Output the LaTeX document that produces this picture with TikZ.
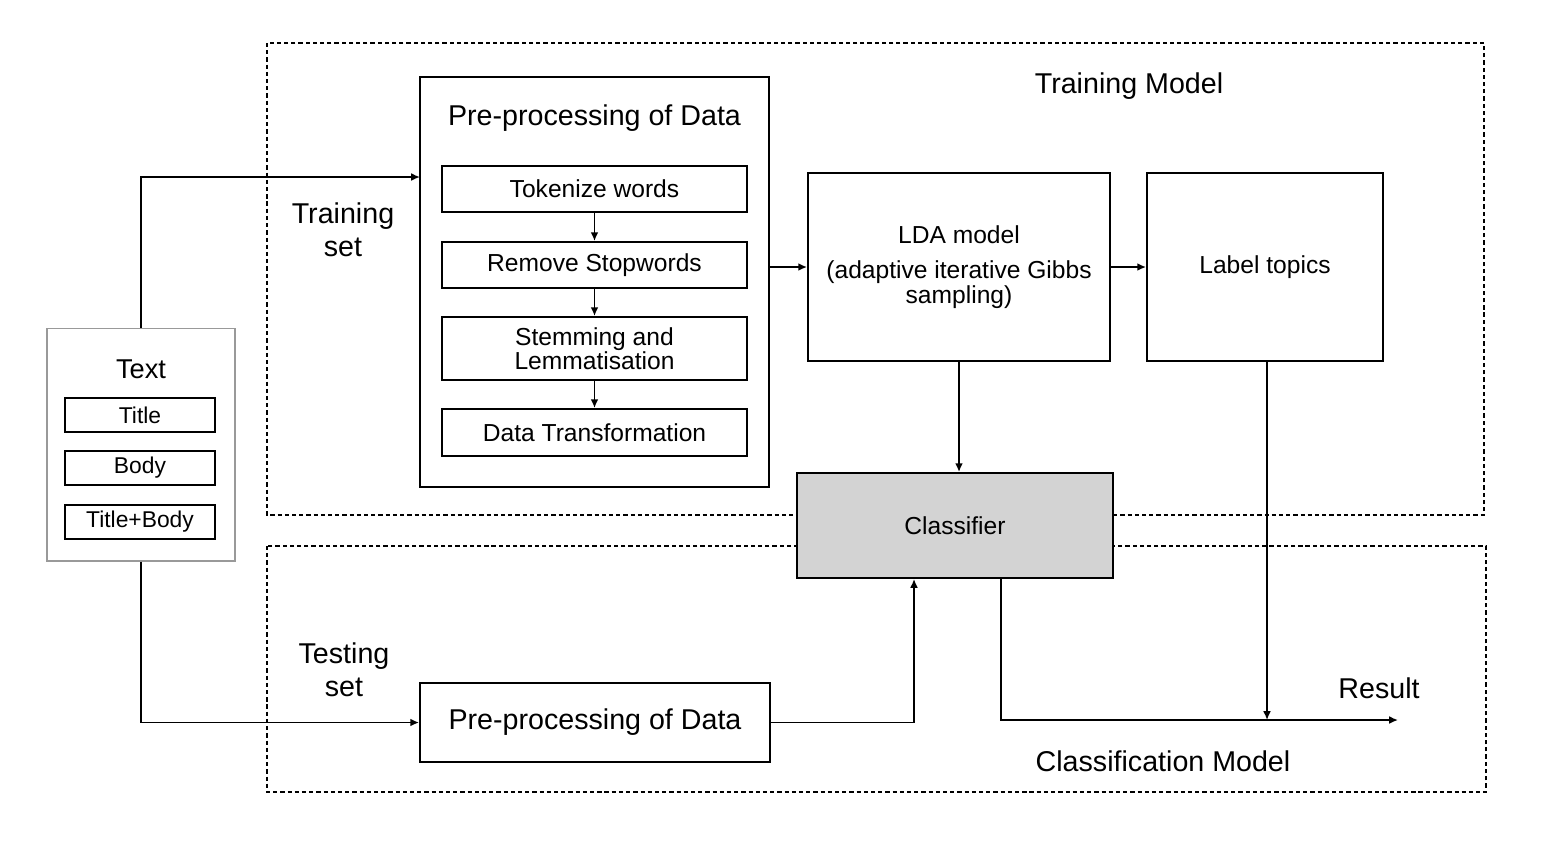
\documentclass[tikz,border=0pt]{standalone}
\usepackage{fontspec}
\setmainfont{Liberation Sans}
\usetikzlibrary{arrows.meta}
\definecolor{clfgray}{RGB}{211,211,211}
\begin{document}
\begin{tikzpicture}[x=0.02cm, y=-0.02cm,
        box/.style={draw, line width=1.1pt, inner sep=0pt, align=center},
        bigtext/.style={font=\fontsize{16.3}{18.7}\selectfont, align=center},
        midtext/.style={font=\fontsize{14}{14}\selectfont},
        zone/.style={draw, line width=0.8pt, dash pattern=on 2.4pt off 1.7pt},
        flow/.style={line width=1.1pt, -{Latex[length=5pt, width=4.5pt]}}]
            \useasboundingbox (0,0) rectangle (1558,840);

            % dashed zones
            \draw[zone] (267,43) rectangle (1484,515);
            \draw[zone] (267,546) rectangle (1486,792);
            \node[bigtext] (TrainModel) at (1129,86) {Training Model};
            \node[bigtext] (ClassModel) at (1163,761) {Classification Model};

            % input text
            \node[draw=gray!80, line width=0.6pt, minimum width=3.76cm, minimum height=4.66cm] (Text) at (141,444.5) {};
            \node[bigtext, font=\fontsize{15.5}{15.5}\selectfont] (TextLbl) at (141,369) {Text};
            \node[box, midtext, font=\fontsize{13}{13}\selectfont, minimum width=3cm, minimum height=0.68cm] (Title) at (140,415) {Title};
            \node[box, midtext, font=\fontsize{13}{13}\selectfont, minimum width=3cm, minimum height=0.68cm] (Body) at (140,468) {Body};
            \node[box, midtext, font=\fontsize{13}{13}\selectfont, minimum width=3cm, minimum height=0.68cm] (TitleBody) at (140,522) {Title+Body};

            % pre-processing (training)
            \node[box, minimum width=6.98cm, minimum height=8.2cm] (Prep) at (594.5,282) {};
            \node[bigtext] (PrepLbl) at (594.5,118) {Pre-processing of Data};
            \node[box, midtext, minimum width=6.1cm, minimum height=0.92cm] (Tok) at (594.5,189) {Tokenize words};
            \node[box, midtext, minimum width=6.1cm, minimum height=0.92cm] (Stop) at (594.5,265) {Remove Stopwords};
            \node[box, midtext, minimum width=6.1cm, minimum height=1.26cm] (Stem) at (594.5,348.5) {Stemming and\\Lemmatisation};
            \node[box, midtext, minimum width=6.1cm, minimum height=0.94cm] (Trans) at (594.5,432.5) {Data Transformation};

            % models
            \node[box, midtext, minimum width=6.04cm, minimum height=3.76cm] (LDA) at (959,267) {\\[-4pt]LDA model\\[6pt](adaptive iterative Gibbs\\sampling)};
            \node[box, midtext, minimum width=4.72cm, minimum height=3.76cm] (Topics) at (1265,267) {Label topics};
            \node[box, midtext, fill=clfgray, minimum width=6.32cm, minimum height=2.1cm] (Clf) at (955,525.5) {Classifier};

            % pre-processing (testing)
            \node[box, bigtext, minimum width=7cm, minimum height=1.58cm] (Prep2) at (595,722.5) {Pre-processing of Data};

            \node[bigtext] (TrainSet) at (343,230) {Training\\set};
            \node[bigtext] (TestSet) at (344,670) {Testing\\set};
            \node[bigtext] (Result) at (1379,688) {Result};

            \coordinate (TrainIn) at (420,177);
            \coordinate (ResEnd) at (1398,720);

            \draw[flow] (Text.north) |- (TrainIn);
            \draw[flow] (Text.south) |- (Prep2.west);
            \draw (Tok) edge[flow] (Stop);
            \draw (Stop) edge[flow] (Stem);
            \draw (Stem) edge[flow] (Trans);
            \draw[flow] (LDA.west -| Prep.east) -- (LDA.west);
            \draw[flow] (LDA.east) -- (Topics.west);
            \draw[flow] (LDA.south) -- (LDA.south |- Clf.north);
            \draw[flow] (Prep2.east) -| ([xshift=-0.82cm]Clf.south);
            \draw[flow] ([xshift=0.92cm]Clf.south) |- (ResEnd);
            \draw[flow] ([xshift=0.04cm]Topics.south) -- ([xshift=0.04cm]Topics.south |- ResEnd);
        \end{tikzpicture}
\end{document}
